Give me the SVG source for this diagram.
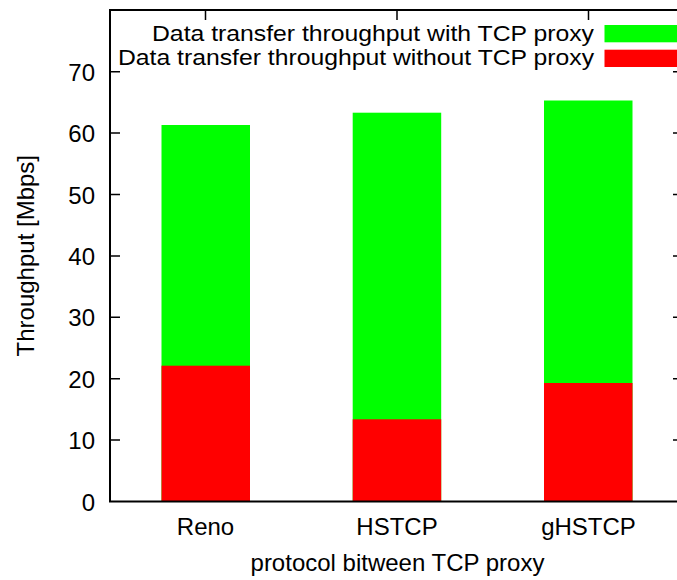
<svg xmlns="http://www.w3.org/2000/svg" width="677" height="580" viewBox="0 0 677 580">
<style>
text{font-family:"Liberation Sans",Arial,sans-serif;font-size:24px;fill:#000}
.ytl{text-anchor:end}
.mid{text-anchor:middle}
.end{text-anchor:end}
.leg{font-size:21.5px}
.tick{stroke:#000;stroke-width:1.5;fill:none}
.g{fill:#00ff00}
.r{fill:#ff0000}
</style>
<rect width="677" height="580" fill="#fff"/>
<g id="ticks">
<path class="tick" d="M110 440.1h10M110 378.7h10M110 317.3h10M110 255.9h10M110 194.5h10M110 133.1h10M110 71.7h10M673 440.1h5M673 378.7h5M673 317.3h5M673 255.9h5M673 194.5h5M673 133.1h5M673 71.7h5M205.5 10v10M397 10v10M588.5 10v10"/>
</g>
<g id="ytick-labels">
<text class="ytl" x="95" y="510.5">0</text>
<text class="ytl" x="95" y="449">10</text>
<text class="ytl" x="95" y="387.7">20</text>
<text class="ytl" x="95" y="326.3">30</text>
<text class="ytl" x="95" y="264.9">40</text>
<text class="ytl" x="95" y="203.5">50</text>
<text class="ytl" x="95" y="142.1">60</text>
<text class="ytl" x="95" y="80.7">70</text>
</g>
<g id="bar-reno">
<rect class="g" x="161.5" y="125" width="88.5" height="376.5"/>
<rect class="r" x="161.5" y="365.7" width="88.5" height="135.8"/>
</g>
<g id="bar-hstcp">
<rect class="g" x="352.7" y="112.7" width="88.5" height="388.8"/>
<rect class="r" x="352.7" y="419.3" width="88.5" height="82.2"/>
</g>
<g id="bar-ghstcp">
<rect class="g" x="544" y="100.5" width="88.5" height="401"/>
<rect class="r" x="544" y="383" width="88.5" height="118.5"/>
</g>
<g id="frame">
<rect x="110" y="10" width="568" height="491.5" fill="none" stroke="#000" stroke-width="2"/>
</g>
<g id="legend">
<text class="end leg" x="594" y="41" textLength="442" lengthAdjust="spacingAndGlyphs">Data transfer throughput with TCP proxy</text>
<rect class="g" x="604.5" y="25" width="72.5" height="17.3"/>
<text class="end leg" x="594" y="65" textLength="476" lengthAdjust="spacingAndGlyphs">Data transfer throughput without TCP proxy</text>
<rect class="r" x="604.5" y="49.7" width="72.5" height="17.3"/>
</g>
<g id="xtick-labels">
<text class="mid" x="205.5" y="534.5">Reno</text>
<text class="mid" x="397" y="534.5">HSTCP</text>
<text class="mid" x="588.5" y="534.5">gHSTCP</text>
</g>
<g id="axis-labels">
<text class="mid" x="397.5" y="571">protocol bitween TCP proxy</text>
<text class="mid" transform="translate(34,255.7) rotate(-90)">Throughput [Mbps]</text>
</g>
</svg>
